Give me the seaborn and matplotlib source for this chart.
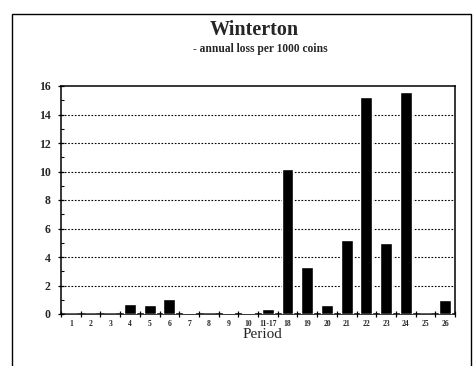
import matplotlib
matplotlib.use("Agg")
import matplotlib.pyplot as plt
from matplotlib.patches import Rectangle
from matplotlib.ticker import MultipleLocator, FixedLocator
import seaborn as sns
import pandas as pd

periods = ["1", "2", "3", "4", "5", "6", "7", "8", "9", "10", "11-17",
           "18", "19", "20", "21", "22", "23", "24", "25", "26"]
loss_per_1000 = [0.0, 0.0, 0.0, 0.73, 0.6, 1.05, 0.05, 0.0, 0.04, 0.08, 0.33,
                 10.2, 3.3, 0.63, 5.2, 15.2, 4.95, 15.6, 0.0, 0.95]
y_ticks = [0, 2, 4, 6, 8, 10, 12, 14, 16]

df = pd.DataFrame({"Period": periods, "Loss": loss_per_1000})

sns.set_style("white")
plt.rcParams["font.family"] = ["Liberation Serif", "DejaVu Serif"]

fig = plt.figure(figsize=(4.75, 3.66), dpi=100)
ax = fig.add_axes([61 / 475, 1 - 314 / 366, 394 / 475, 228 / 366])

sns.barplot(data=df, x="Period", y="Loss", color="black", width=0.6,
            saturation=1, ax=ax, zorder=3)

ax.set_xlim(-0.5, len(periods) - 0.5)
ax.set_ylim(0, 16)
ax.set_yticks(y_ticks)
ax.set_yticklabels([str(t) for t in y_ticks], fontsize=8.5, fontweight="bold")
ax.yaxis.set_minor_locator(MultipleLocator(1))
ax.set_xticks(range(len(periods)))
ax.set_xticklabels(periods, fontsize=5.5, fontweight="bold")
ax.xaxis.set_minor_locator(FixedLocator([i - 0.5 for i in range(len(periods) + 1)]))

ax.tick_params(axis="x", which="major", length=0, pad=4)
ax.tick_params(axis="x", which="minor", direction="inout", length=5, width=0.9, color="black")
ax.tick_params(axis="y", which="major", direction="inout", length=5, width=0.9, color="black", pad=5)
ax.tick_params(axis="y", which="minor", direction="in", length=2, width=0.8, color="black")
ax.tick_params(left=True, bottom=True, which="both")

for t in y_ticks[1:-1]:
    ax.axhline(t, color="black", linestyle=(0, (1.5, 1.5)), linewidth=0.8, zorder=1)

for side in ["left", "bottom", "right", "top"]:
    ax.spines[side].set_visible(True)
    ax.spines[side].set_color("black")
    ax.spines[side].set_linewidth(1.1)

ax.set_xlabel("")
ax.set_ylabel("")
fig.text(262 / 475, 1 - 335 / 366, "Period", ha="center", va="center", fontsize=11)

fig.text(254 / 475, 1 - 30 / 366, "Winterton", ha="center", va="center",
         fontsize=14.5, fontweight="bold")
fig.text(260 / 475, 1 - 49 / 366, "- annual loss per 1000 coins", ha="center",
         va="center", fontsize=8.3, fontweight="bold")

# outer frame around the whole chart
fig.patches.append(Rectangle((12 / 475, -0.1), (471 - 12) / 475, 1.1 - 14 / 366,
                             transform=fig.transFigure, fill=False,
                             edgecolor="black", linewidth=1.0))

fig.savefig("out.png", dpi=100)
